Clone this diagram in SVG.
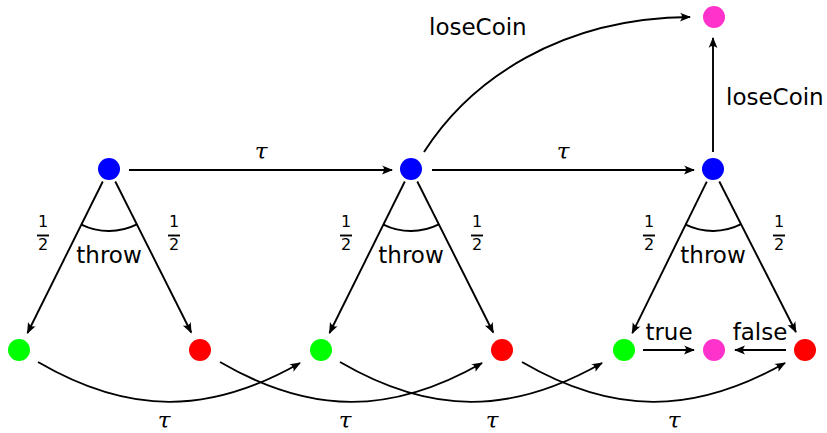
<svg xmlns="http://www.w3.org/2000/svg" width="827" height="433" viewBox="0 0 827 433">
<style>
.e{fill:none;stroke:#000;stroke-width:1.9}
.a{marker-end:url(#ah)}
.t{font-family:"DejaVu Sans",sans-serif;font-size:23px;fill:#000}
.f{font-family:"DejaVu Sans",sans-serif;font-size:16px;fill:#000;text-anchor:middle}
.tau{font-family:"DejaVu Serif","Liberation Serif",serif;font-style:italic;font-size:23px;fill:#000;text-anchor:middle}
.blue{fill:#0000ff}.green{fill:#00ff00}.red{fill:#ff0000}.mag{fill:#ff33cc}
</style>
<defs>
<marker id="ah" markerUnits="userSpaceOnUse" markerWidth="12" markerHeight="10" viewBox="0 0 12 10" refX="10" refY="5" orient="auto">
<path d="M0,0.6 Q4,4 0,9.4 L11,5 Z" fill="#000"/>
</marker>
</defs>
<g id="connectors">
<path class="e a" d="M129,170 L392,170"/>
<path class="e a" d="M432,170 L694,170"/>
<path class="e a" d="M424,152 C470,80 560,18 690,17"/>
<path class="e a" d="M713,152 L713,38"/>
<path class="e a" d="M102.8,181.5 L27.5,333"/>
<path class="e a" d="M115.3,181.5 L191.2,332.5"/>
<path class="e a" d="M404.8,181.5 L329.5,333"/>
<path class="e a" d="M417.3,181.5 L493.2,332.5"/>
<path class="e a" d="M706.8,181.6 L632.3,333.2"/>
<path class="e a" d="M719.3,181.5 L795.9,332"/>
<path class="e" d="M81.4,224.6 A62,62 0 0 0 136.8,224.4"/>
<path class="e" d="M383.4,224.6 A62,62 0 0 0 438.8,224.4"/>
<path class="e" d="M685.7,224.6 A62,62 0 0 0 741.1,224.2"/>
<path class="e a" d="M643,350 L694,350"/>
<path class="e a" d="M786,350 L735,350"/>
<path class="e a" d="M38,362 C129,415 209,415 300,363"/>
<path class="e a" d="M220,362 C311,415 391,415 482,363"/>
<path class="e a" d="M340,362 C431,415 511,415 602,363"/>
<path class="e a" d="M522,362 C613,415 693,415 785,363"/>
</g>
<g id="labels">
<text class="tau" x="261" y="159">τ</text>
<text class="tau" x="563" y="159">τ</text>
<text class="t" x="429" y="35">loseCoin</text>
<text class="t" x="726" y="105">loseCoin</text>
<text class="t" x="109" y="263" text-anchor="middle">throw</text>
<text class="t" x="411" y="263" text-anchor="middle">throw</text>
<text class="t" x="713" y="263" text-anchor="middle">throw</text>
<text class="t" x="669" y="340" text-anchor="middle">true</text>
<text class="t" x="760" y="340" text-anchor="middle">false</text>
<text class="tau" x="164" y="428">τ</text>
<text class="tau" x="345" y="428">τ</text>
<text class="tau" x="492" y="428">τ</text>
<text class="tau" x="674" y="428">τ</text>
<g id="frac1l"><text class="f" x="43" y="227">1</text><path class="e" d="M37,235.5 H49" stroke-width="1.2"/><text class="f" x="43" y="250">2</text></g>
<g id="frac1r"><text class="f" x="174" y="227">1</text><path class="e" d="M168,235.5 H180" stroke-width="1.2"/><text class="f" x="174" y="250">2</text></g>
<g id="frac2l"><text class="f" x="346" y="227">1</text><path class="e" d="M340,235.5 H352" stroke-width="1.2"/><text class="f" x="346" y="250">2</text></g>
<g id="frac2r"><text class="f" x="477" y="227">1</text><path class="e" d="M471,235.5 H483" stroke-width="1.2"/><text class="f" x="477" y="250">2</text></g>
<g id="frac3l"><text class="f" x="649" y="227">1</text><path class="e" d="M643,235.5 H655" stroke-width="1.2"/><text class="f" x="649" y="250">2</text></g>
<g id="frac3r"><text class="f" x="779" y="227">1</text><path class="e" d="M773,235.5 H785" stroke-width="1.2"/><text class="f" x="779" y="250">2</text></g>
</g>
<g id="b1"><circle class="blue" cx="109" cy="169" r="11"/></g>
<g id="b2"><circle class="blue" cx="411" cy="169" r="11"/></g>
<g id="b3"><circle class="blue" cx="713" cy="169" r="11"/></g>
<g id="m1"><circle class="mag" cx="714" cy="17" r="11"/></g>
<g id="g1"><circle class="green" cx="19" cy="350" r="11"/></g>
<g id="r1"><circle class="red" cx="200" cy="350" r="11"/></g>
<g id="g2"><circle class="green" cx="321" cy="350" r="11"/></g>
<g id="r2"><circle class="red" cx="502" cy="350" r="11"/></g>
<g id="g3"><circle class="green" cx="624" cy="350" r="11"/></g>
<g id="m2"><circle class="mag" cx="714" cy="350" r="11"/></g>
<g id="r3"><circle class="red" cx="805" cy="350" r="11"/></g>
</svg>
